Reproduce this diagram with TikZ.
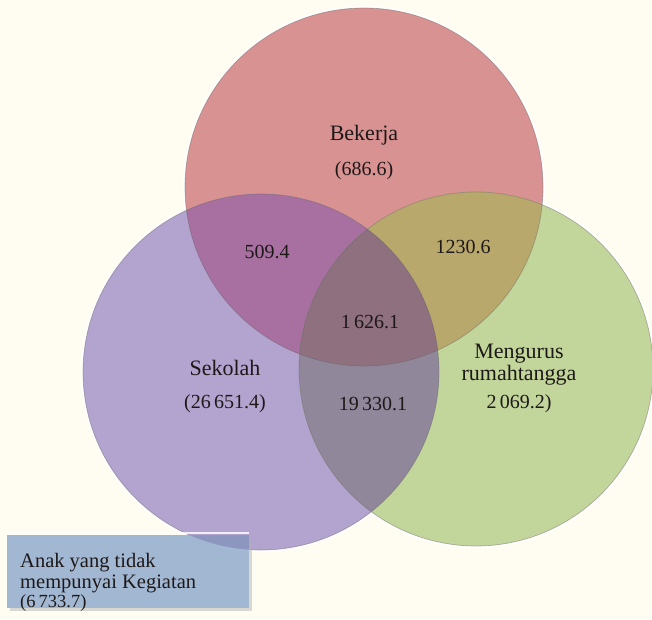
\documentclass[tikz,border=0pt]{standalone}
\usepackage{fontspec}
\setmainfont{Liberation Serif}
\definecolor{bg}{RGB}{255,253,241}
\definecolor{cA}{RGB}{217,146,146}
\definecolor{cB}{RGB}{178,163,207}
\definecolor{cC}{RGB}{194,214,155}
\definecolor{cAB}{RGB}{167,112,160}
\definecolor{cAC}{RGB}{185,168,107}
\definecolor{cBC}{RGB}{145,135,155}
\definecolor{cABC}{RGB}{142,112,126}
\definecolor{cbox}{RGB}{162,183,210}
\definecolor{cboxB}{RGB}{140,150,190}
\definecolor{txt}{RGB}{30,25,25}
\begin{document}
\begin{tikzpicture}[x=1pt,y=-1pt,
  lbl/.style={font=\fontsize{20}{23}\selectfont, text=txt, inner sep=0pt, anchor=base},
  wlbl/.style={lbl, font=\fontsize{22}{25}\selectfont},
  boxlbl/.style={font=\fontsize{20.5}{22}\selectfont, text=txt, inner sep=0pt, anchor=base west},
  halo/.style={draw=white, line width=4pt},
  rim/.style={draw=black!60, draw opacity=0.45, line width=0.7pt}]
\fill[bg] (0,0) rectangle (652,619);
\useasboundingbox (0,0) rectangle (652,619);
\def\cirA{(364,187) circle (179pt)}
\def\cirB{(261,372) circle (178pt)}
\def\cirC{(476,369) circle (177pt)}
% white halo
\path[halo] \cirA; \path[halo] \cirB; \path[halo] \cirC;
% single regions
\fill[cA] \cirA;
\fill[cB] \cirB;
\fill[cC] \cirC;
% pairwise overlaps
\begin{scope}\clip \cirA; \fill[cAB] \cirB; \end{scope}
\begin{scope}\clip \cirA; \fill[cAC] \cirC; \end{scope}
\begin{scope}\clip \cirB; \fill[cBC] \cirC; \end{scope}
\begin{scope}\clip \cirA; \clip \cirB; \fill[cABC] \cirC; \end{scope}
% rims
\path[rim] \cirA; \path[rim] \cirB; \path[rim] \cirC;
% box
\fill[black!30, opacity=0.5] (10,538) rectangle (252,611);
\draw[white, line width=2pt, opacity=0.8] (7,533) -- (249,533);
\fill[cbox] (7,535) rectangle (249,608);
\begin{scope}\clip (7,535) rectangle (249,608); \fill[cboxB] \cirB; \end{scope}
% labels
\node[wlbl] (bek) at (364,140) {Bekerja};
\node[lbl] (bekv) at (364,175) {(686.6)};
\node[lbl] (ab) at (267,258) {509.4};
\node[lbl] (ac) at (463,253) {1230.6};
\node[lbl] (abc) at (370,328) {1\,626.1};
\node[lbl] (bc) at (373,410) {19\,330.1};
\node[wlbl] (sek) at (225,375) {Sekolah};
\node[lbl] (sekv) at (225,408) {(26\,651.4)};
\node[wlbl] (men1) at (519,358) {Mengurus};
\node[wlbl] (men2) at (519,380) {rumahtangga};
\node[lbl] (menv) at (519,408) {2\,069.2)};
\node[boxlbl] (box1) at (20,567) {Anak yang tidak};
\node[boxlbl] (box2) at (20,588) {mempunyai Kegiatan};
\node[boxlbl, font=\fontsize{18.5}{22}\selectfont] (box3) at (20,607) {(6\,733.7)};
\end{tikzpicture}
\end{document}
